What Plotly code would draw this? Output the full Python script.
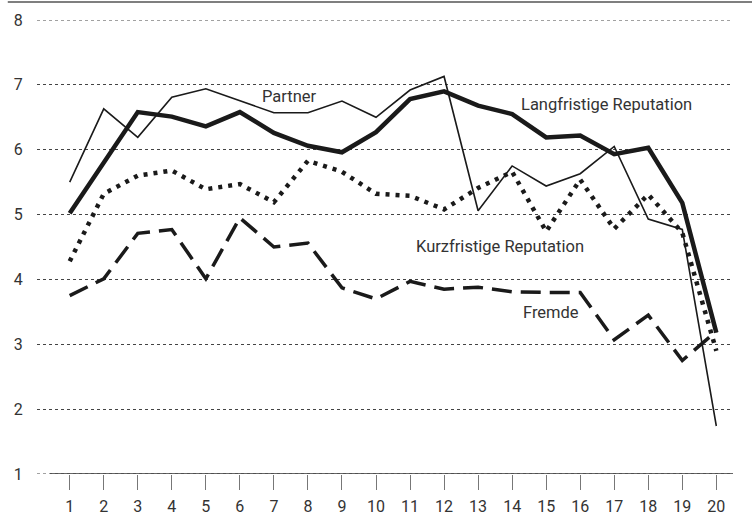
import plotly.graph_objects as go

x_vals = list(range(1, 21))
langfristige = [5.02, 5.80, 6.58, 6.51, 6.36, 6.58, 6.26, 6.06, 5.96, 6.27,
                6.78, 6.90, 6.68, 6.55, 6.19, 6.22, 5.93, 6.03, 5.18, 3.18]
partner = [5.50, 6.63, 6.19, 6.81, 6.94, 6.75, 6.57, 6.57, 6.75, 6.50,
           6.92, 7.13, 5.06, 5.75, 5.44, 5.63, 6.05, 4.93, 4.77, 1.74]
kurzfristige = [4.28, 5.32, 5.60, 5.68, 5.39, 5.47, 5.19, 5.83, 5.66, 5.32,
                5.29, 5.08, 5.41, 5.66, 4.74, 5.54, 4.78, 5.31, 4.72, 2.90]
fremde = [3.75, 4.01, 4.71, 4.77, 4.01, 4.95, 4.50, 4.56, 3.87, 3.70,
          3.97, 3.85, 3.88, 3.81, 3.80, 3.80, 3.07, 3.45, 2.75, 3.20]
y_ticks = [1, 2, 3, 4, 5, 6, 7, 8]

FONT = "Roboto"
TXT = "#333333"
LINE = "#1a1a1a"
GRID = "#444444"

fig = go.Figure()
fig.add_trace(go.Scatter(x=x_vals, y=fremde, mode="lines", name="Fremde",
                         line=dict(color=LINE, width=3.5, dash="20px,9px")))
fig.add_trace(go.Scatter(x=x_vals, y=kurzfristige, mode="lines", name="Kurzfristige Reputation",
                         line=dict(color=LINE, width=4.5, dash="4px,6px")))
fig.add_trace(go.Scatter(x=x_vals, y=partner, mode="lines", name="Partner",
                         line=dict(color=LINE, width=1.6)))
fig.add_trace(go.Scatter(x=x_vals, y=langfristige, mode="lines", name="Langfristige Reputation",
                         line=dict(color=LINE, width=4.5)))

labels = [
    ("Partner", 7.47, 6.82),
    ("Langfristige Reputation", 16.76, 6.69),
    ("Kurzfristige Reputation", 13.64, 4.51),
    ("Fremde", 15.14, 3.49),
]
for txt, lx, ly in labels:
    fig.add_annotation(x=lx, y=ly, text=txt, showarrow=False,
                       font=dict(family=FONT, size=16.5, color=TXT),
                       xanchor="center", yanchor="middle")

# gridlines at range edges (plotly skips them)
for yv in (y_ticks[0], y_ticks[-1]):
    fig.add_shape(type="line", xref="paper", yref="y", x0=0, x1=1, y0=yv, y1=yv,
                  line=dict(color=GRID, width=1, dash="3px,3px"), layer="below")
# baseline of x axis
fig.add_shape(type="line", xref="x", yref="y", x0=0.42, x1=20.49, y0=1, y1=1,
              line=dict(color="#333333", width=1.5))
# top rule
fig.add_shape(type="line", xref="paper", yref="paper", x0=-0.042, x1=1.03,
              y0=1.0396, y1=1.0396, line=dict(color="#555555", width=1.5))

fig.update_layout(
    width=752, height=520,
    margin=dict(l=37, r=19, t=20, b=46, autoexpand=False),
    paper_bgcolor="white", plot_bgcolor="white",
    showlegend=False,
    font=dict(family=FONT, size=16, color=TXT),
    xaxis=dict(range=[0.039, 20.49], tickvals=x_vals, ticktext=[str(v) for v in x_vals],
               showgrid=False, zeroline=False, showline=False, automargin=False,
               ticks="outside", ticklen=15, tickwidth=1.2, tickcolor="#777777",
               ticklabelstandoff=3,
               tickfont=dict(family=FONT, size=16, color=TXT)),
    yaxis=dict(range=[1, 8], tickvals=y_ticks, ticktext=[str(v) for v in y_ticks],
               showgrid=True, gridcolor=GRID, gridwidth=1, griddash="3px,3px",
               zeroline=False, showline=False, automargin=False,
               ticks="outside", ticklen=10, tickcolor="rgba(0,0,0,0)",
               tickfont=dict(family=FONT, size=16, color=TXT)),
)

fig.write_html("out.html", config={"displayModeBar": False},
               post_script="document.body.style.margin='0px';document.body.style.overflow='hidden';")
